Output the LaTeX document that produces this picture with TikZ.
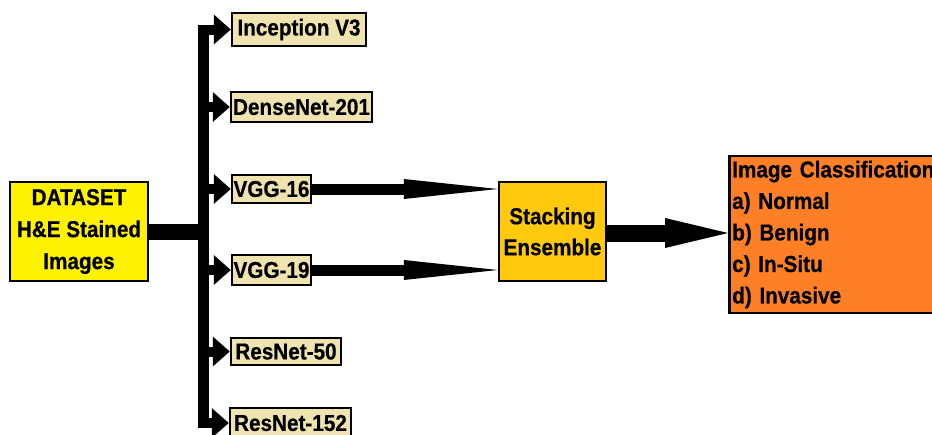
\documentclass[tikz,border=0pt]{standalone}
\usepackage{fontspec}
\setmainfont{Liberation Sans}[FakeStretch=0.9, BoldFeatures={FakeBold=0.6}]
\usetikzlibrary{arrows.meta}
\definecolor{dataYellow}{RGB}{255,242,0}
\definecolor{modelTan}{RGB}{239,228,176}
\definecolor{stackGold}{RGB}{255,201,14}
\definecolor{classOrange}{RGB}{255,127,39}
\begin{document}
\begin{tikzpicture}[x=1pt,y=-1pt,
  box/.style={draw=black, line width=2.5pt, inner sep=0pt,
    font=\bfseries\fontsize{23}{32}\selectfont, align=center},
  model/.style={box, fill=modelTan},
  bus/.style={line width=11pt},
  trunk/.style={line width=16pt},
  branch/.style={line width=10pt, -{Triangle[length=17pt,width=30pt,line width=0pt]}},
  feed/.style={line width=11pt, -{Triangle[length=94pt,width=20pt,line width=0pt]}},
  bigarrow/.style={line width=17pt, -{Triangle[length=63pt,width=30pt,line width=0pt]}},
]
\useasboundingbox (0,0) rectangle (932,434);
\clip (0,0) rectangle (932,434);

% input data set
\node[box, fill=dataYellow, minimum width=138pt, minimum height=99pt]
  (data) at (79,231.5) {DATASET\\H\&E Stained\\Images};

% pretrained networks
\node[model, minimum width=134pt, minimum height=33pt] (inc)    at (299,29.5)  {Inception V3};
\node[model, minimum width=141pt, minimum height=30pt] (dense)  at (301.5,107) {DenseNet-201};
\node[model, minimum width=79pt,  minimum height=28pt] (vgg16)  at (271.5,189) {VGG-16};
\node[model, minimum width=79pt,  minimum height=30pt] (vgg19)  at (271.5,270) {VGG-19};
\node[model, minimum width=110pt, minimum height=27pt] (res50)  at (286,351.5) {ResNet-50};
\node[model, minimum width=121pt, minimum height=30pt] (res152) at (290.5,423) {ResNet-152};

% ensemble and output
\node[box, fill=stackGold, minimum width=107pt, minimum height=99pt, font=\bfseries\fontsize{23}{31}\selectfont]
  (stack) at (552.5,231.5) {Stacking\\Ensemble};
\node[box, fill=classOrange, anchor=west, minimum height=157pt, text width=226pt,
  inner sep=3pt, align=left, font=\bfseries\fontsize{23}{31.5}\selectfont]
  (cls) at (728,234.5) {Image Classification\\a) Normal\\b) Benign\\c) In-Situ\\d) Invasive};

% distribution bus
\coordinate (busTop) at (203.5,24.5);
\coordinate (busBot) at (203.5,428);
\draw[bus] (busTop) -- (busBot);
\draw[trunk] (data.east) -- (data.east -| busTop);

\foreach \m in {inc,dense,vgg16,vgg19,res50,res152}
  \draw[branch] (busTop |- \m.west) -- (\m.west);

% selected models feed the ensemble
\draw[feed] (vgg16.east) -- (stack.west |- vgg16.east);
\draw[feed] (vgg19.east) -- (stack.west |- vgg19.east);

\draw[bigarrow] (stack.east |- 0,233) -- (cls.west |- 0,233);
\end{tikzpicture}
\end{document}
